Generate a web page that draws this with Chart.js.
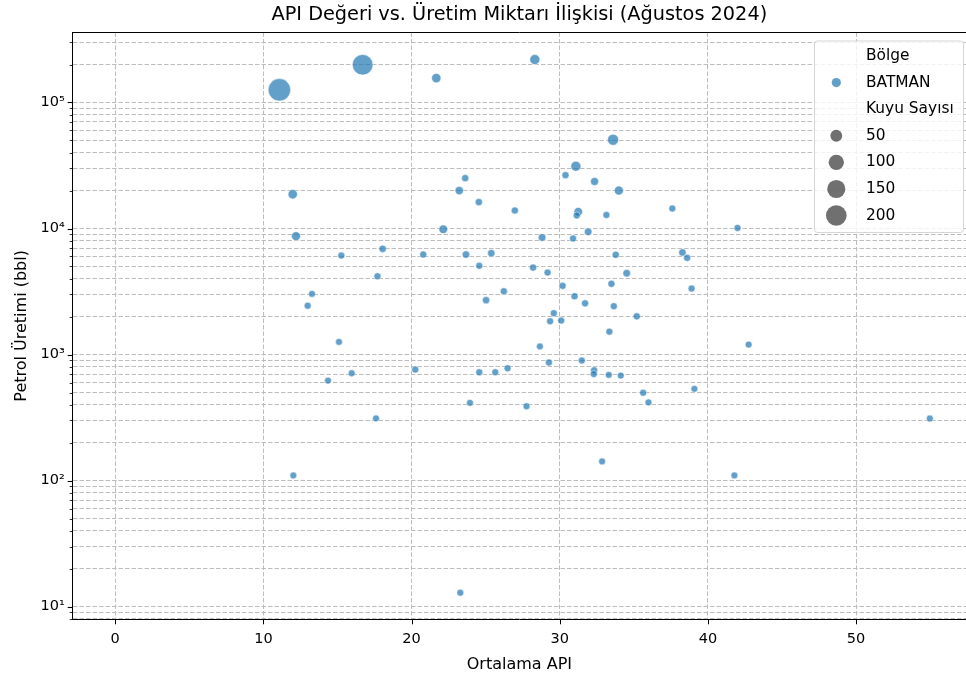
<!DOCTYPE html>
<html>
<head>
<meta charset="utf-8">
<script src="https://cdn.jsdelivr.net/npm/chart.js@4.4.1/dist/chart.umd.min.js"></script>
<style>
  html, body { margin: 0; padding: 0; background: #ffffff; }
  canvas { display: block; }
</style>
</head>
<body>
<canvas id="chart" width="966" height="682"></canvas>
<script>
// Ortalama API değeri (x), petrol üretimi (y, bbl) ve kuyu sayısı — Batman, Ağustos 2024
const apiValues = [
  11.08, 16.7, 21.67, 28.32, 33.6, 31.09, 30.39, 32.35, 33.99, 23.62,
  23.22, 24.54, 26.97, 31.25, 31.15, 33.15, 37.6, 42.0, 11.98, 12.2,
  22.14, 28.81, 30.9, 31.92, 15.26, 18.05, 20.79, 23.67, 25.38, 33.78,
  38.28, 38.6, 24.57, 28.2, 29.18, 34.52, 17.7, 30.19, 33.49, 38.9,
  26.23, 13.28, 31.0, 25.03, 31.71, 33.65, 12.99, 29.6, 29.35, 30.1,
  35.2, 33.35, 15.1, 28.66, 42.75, 29.27, 31.49, 14.36, 15.96, 20.25,
  24.57, 25.65, 26.48, 32.32, 32.3, 33.31, 34.12, 35.63, 35.99, 39.09,
  23.94, 27.76, 17.6, 54.98, 12.02, 32.86, 41.79, 23.29
];
const oilProduction = [
  126000, 199000, 156000, 219000, 50600, 31200, 26500, 23600, 20000, 25100,
  20000, 16200, 13900, 13600, 12700, 12800, 14400, 10100, 18700, 8700,
  9870, 8490, 8330, 9420, 6100, 6900, 6220, 6220, 6370, 6190,
  6460, 5850, 5060, 4900, 4470, 4420, 4180, 3510, 3640, 3340,
  3180, 3030, 2900, 2700, 2550, 2420, 2440, 2130, 1840, 1860,
  2010, 1520, 1260, 1160, 1200, 865, 896, 622, 711, 760,
  724, 724, 778, 750, 700, 690, 681, 497, 418, 535,
  414, 389, 312, 311, 110, 142, 110, 12.9
];
const wellCounts = [
  240, 200, 22, 29, 40, 29, 3, 10, 19, 3,
  13, 4, 3, 15, 2, 2, 2, 2, 22, 19,
  16, 7, 2, 7, 2, 5, 2, 5, 5, 3,
  5, 3, 2, 3, 2, 7, 2, 3, 3, 2,
  3, 1, 3, 4, 3, 2, 2, 2, 2, 2,
  3, 2, 1, 1, 1, 2, 2, 1, 1, 2,
  2, 1, 2, 3, 2, 1, 1, 2, 1, 1,
  1, 1, 1, 1, 1, 1, 1, 1
];
const xTickValues = [0, 10, 20, 30, 40, 50];
const regionNames = ['BATMAN'];
const legendWellCounts = [50, 100, 150, 200];

const FONT = "'DejaVu Sans', 'Liberation Sans', sans-serif";
const POINT_FILL = 'rgba(31,119,180,0.7)';
const SIZE_FILL = 'rgba(51,51,51,0.7)';
const GRID_COLOR = '#bdbdbd';

// marker area grows linearly with the well count
function markerRadius(n) {
  return Math.sqrt(45 + 1.9 * n) / 2;
}

const SUPERSCRIPT = { '0': '⁰', '1': '¹', '2': '²', '3': '³', '4': '⁴', '5': '⁵', '6': '⁶', '7': '⁷', '8': '⁸', '9': '⁹', '-': '⁻' };
function powerOfTenLabel(v) {
  const e = Math.round(Math.log10(v));
  return '10' + String(e).split('').map(c => SUPERSCRIPT[c]).join('');
}
function isPowerOfTen(v) {
  const e = Math.log10(v);
  return Math.abs(e - Math.round(e)) < 1e-9;
}

// top frame line, outward tick marks and the in-plot legend box
const frameAndLegend = {
  id: 'frameAndLegend',
  afterDraw(chart) {
    const { ctx, chartArea } = chart;
    const xs = chart.scales.x, ys = chart.scales.y;
    ctx.save();

    // top spine
    ctx.strokeStyle = '#000';
    ctx.lineWidth = 1;
    ctx.beginPath();
    const topY = Math.round(chartArea.top) + 0.5;
    ctx.moveTo(chartArea.left, topY);
    ctx.lineTo(chartArea.right, topY);
    ctx.stroke();

    // x tick marks
    ctx.beginPath();
    xs.ticks.forEach(t => {
      const px = Math.round(xs.getPixelForValue(t.value)) + 0.5;
      ctx.moveTo(px, chartArea.bottom);
      ctx.lineTo(px, chartArea.bottom + 5);
    });
    ctx.stroke();

    // y tick marks, long on decades and short between them
    ys.ticks.forEach(t => {
      const py = Math.round(ys.getPixelForValue(t.value)) + 0.5;
      const major = isPowerOfTen(t.value);
      ctx.lineWidth = major ? 1.1 : 0.8;
      ctx.beginPath();
      ctx.moveTo(chartArea.left - (major ? 5 : 3), py);
      ctx.lineTo(chartArea.left, py);
      ctx.stroke();
    });

    // legend
    const boxLeft = 814, boxRight = 963, boxTop = chartArea.top + 8, boxBottom = 232;
    ctx.beginPath();
    ctx.roundRect(boxLeft + 0.5, boxTop + 0.5, boxRight - boxLeft, boxBottom - boxTop, 3);
    ctx.fillStyle = 'rgba(255,255,255,0.8)';
    ctx.fill();
    ctx.strokeStyle = 'rgba(204,204,204,0.8)';
    ctx.lineWidth = 1;
    ctx.stroke();

    const rows = [];
    rows.push({ label: 'Bölge' });
    regionNames.forEach(name => rows.push({ label: name, r: 4.6, color: POINT_FILL }));
    rows.push({ label: 'Kuyu Sayısı' });
    legendWellCounts.forEach(n => rows.push({ label: String(n), r: markerRadius(n), color: SIZE_FILL }));

    const markerX = 836.3, textX = 866, rowStart = boxTop + 15.5, rowStep = 26.6;
    ctx.font = '15.4px ' + FONT;
    ctx.textBaseline = 'middle';
    ctx.textAlign = 'left';
    rows.forEach((row, i) => {
      const y = rowStart + i * rowStep;
      if (row.r) {
        ctx.beginPath();
        ctx.arc(markerX, y, row.r, 0, Math.PI * 2);
        ctx.fillStyle = row.color;
        ctx.fill();
      }
      ctx.fillStyle = '#000';
      ctx.fillText(row.label, textX, y);
    });
    ctx.restore();
  }
};

const points = apiValues.map((x, i) => ({ x: x, y: oilProduction[i] }));

new Chart(document.getElementById('chart'), {
  type: 'scatter',
  data: {
    datasets: [{
      label: regionNames[0],
      data: points,
      pointRadius: ctx => markerRadius(wellCounts[ctx.dataIndex]),
      pointHoverRadius: ctx => markerRadius(wellCounts[ctx.dataIndex]),
      pointBackgroundColor: POINT_FILL,
      pointBorderColor: 'rgba(255,255,255,0.7)',
      pointBorderWidth: 0.7
    }]
  },
  options: {
    responsive: false,
    animation: false,
    devicePixelRatio: 1,
    events: [],
    layout: { padding: 0, autoPadding: false },
    plugins: {
      legend: { display: false },
      tooltip: { enabled: false },
      title: {
        display: true,
        fullSize: false,
        text: 'API Değeri vs. Üretim Miktarı İlişkisi (Ağustos 2024)',
        color: '#000',
        font: { family: FONT, size: 19.3, weight: 'normal' },
        padding: { top: 3, bottom: 6.3 }
      }
    },
    scales: {
      x: {
        type: 'linear',
        min: -2.87,
        max: 57.42,
        afterBuildTicks: scale => { scale.ticks = xTickValues.map(v => ({ value: v })); },
        afterFit: scale => {
          scale.height = 62.7;
          scale.paddingLeft = 0;
          scale.paddingRight = 0;
        },
        ticks: {
          color: '#000',
          font: { family: FONT, size: 14.5 },
          padding: 11,
          autoSkip: false,
          maxRotation: 0,
          callback: v => String(v)
        },
        grid: { color: GRID_COLOR, lineWidth: 1, drawTicks: false },
        border: { display: true, color: '#000', width: 1, dash: [4.5, 2] },
        title: {
          display: true,
          text: 'Ortalama API',
          color: '#000',
          font: { family: FONT, size: 16 },
          padding: { top: 0, bottom: 8 }
        }
      },
      y: {
        type: 'logarithmic',
        min: 7.94,
        max: 359200,
        afterBuildTicks: scale => {
          const ticks = [];
          for (let e = 0; e <= 5; e++) {
            for (let m = 1; m <= 9; m++) {
              const v = m * Math.pow(10, e);
              if (v >= scale.min && v <= scale.max) ticks.push({ value: v, major: m === 1 });
            }
          }
          scale.ticks = ticks;
        },
        afterFit: scale => {
          scale.width = 72.7;
          scale.paddingTop = 0;
          scale.paddingBottom = 0;
        },
        ticks: {
          color: '#000',
          font: { family: FONT, size: 14.5 },
          padding: 8,
          autoSkip: false,
          callback: v => isPowerOfTen(v) ? powerOfTenLabel(v) : ''
        },
        grid: { color: GRID_COLOR, lineWidth: 1, drawTicks: false },
        border: { display: true, color: '#000', width: 1, dash: [4.5, 2] },
        title: {
          display: true,
          text: 'Petrol Üretimi (bbl)',
          color: '#000',
          font: { family: FONT, size: 16 },
          padding: { top: 12, bottom: 0 }
        }
      }
    }
  },
  plugins: [frameAndLegend]
});
</script>
</body>
</html>
